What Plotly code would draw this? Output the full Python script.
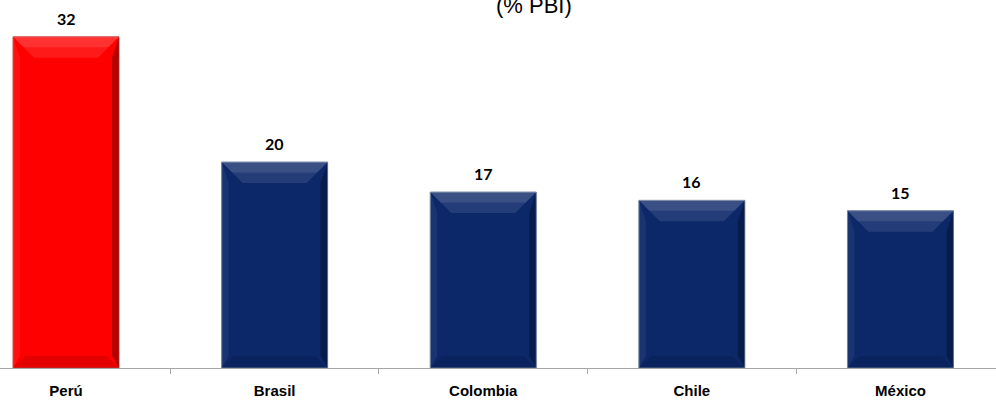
import plotly.graph_objects as go

# ---- data ----
countries = ["Perú", "Brasil", "Colombia", "Chile", "México"]
values = [32.0, 19.9, 17.0, 16.2, 15.2]
value_labels = ["32", "20", "17", "16", "15"]
title_text = "(% PBI)"

# ---- style ----
RED = "#FF0000"
NAVY = "#0C2869"
bar_colors = [RED] + [NAVY] * (len(countries) - 1)
edge_colors = ["#D04040"] + ["#6F7FA0"] * (len(countries) - 1)

W, H = 996, 402
M_L, M_R, M_T, M_B = 0, 0, 0, 34
plot_w = W - M_L - M_R
plot_h = H - M_T - M_B

BAR_W = 0.508
x_range = [-0.3164, 4.458]
y_range = [0, 35.56]

fig = go.Figure()
fig.add_trace(go.Bar(
    x=countries, y=values,
    width=BAR_W,
    marker=dict(color=bar_colors, line=dict(color=edge_colors, width=1)),
    hoverinfo="x+y",
))

# bevel overlays computed from the data through axis scale
px_per_x = plot_w / (x_range[1] - x_range[0])
px_per_y = plot_h / (y_range[1] - y_range[0])
bev_x = 21 / px_per_x
bev_y = 21 / px_per_y
bot_y = 12 / px_per_y
bot_x = 12 / px_per_x
side_x = 7 / px_per_x
shapes = []
for i, v in enumerate(values):
    x0, x1 = i - BAR_W / 2, i + BAR_W / 2
    y0, y1 = 0, v
    # top band (light) in two steps for a soft gradient
    shapes.append(dict(type="path", xref="x", yref="y", layer="above",
                       path=f"M {x0},{y1} L {x1},{y1} L {x1-bev_x},{y1-bev_y} L {x0+bev_x},{y1-bev_y} Z",
                       fillcolor="rgba(255,255,255,0.10)", line=dict(width=0)))
    shapes.append(dict(type="path", xref="x", yref="y", layer="above",
                       path=f"M {x0},{y1} L {x1},{y1} L {x1-bev_x/2},{y1-bev_y/2} L {x0+bev_x/2},{y1-bev_y/2} Z",
                       fillcolor="rgba(255,255,255,0.10)", line=dict(width=0)))
    # right band (dark)
    shapes.append(dict(type="path", xref="x", yref="y", layer="above",
                       path=f"M {x1},{y1} L {x1},{y0} L {x1-side_x},{y0+bot_y} L {x1-side_x},{y1-bev_y} Z",
                       fillcolor="rgba(0,0,0,0.28)", line=dict(width=0)))
    # left band (slightly light)
    shapes.append(dict(type="path", xref="x", yref="y", layer="above",
                       path=f"M {x0},{y1} L {x0},{y0} L {x0+side_x},{y0+bot_y} L {x0+side_x},{y1-bev_y} Z",
                       fillcolor="rgba(255,255,255,0.06)", line=dict(width=0)))
    # bottom band (dark)
    shapes.append(dict(type="path", xref="x", yref="y", layer="above",
                       path=f"M {x0},{y0} L {x1},{y0} L {x1-bot_x},{y0+bot_y} L {x0+bot_x},{y0+bot_y} Z",
                       fillcolor="rgba(0,0,0,0.10)", line=dict(width=0)))

annotations = []
for c, v, lab in zip(countries, values, value_labels):
    annotations.append(dict(x=c, y=v, xref="x", yref="y", text=f"<b>{lab}</b>",
                            showarrow=False, yanchor="bottom", yshift=7,
                            font=dict(family="Lato, Open Sans, sans-serif", size=16, color="#000000")))
annotations.append(dict(x=534 / W, y=1 - 6 / plot_h, xref="paper", yref="paper",
                        text=title_text, showarrow=False, xanchor="center", yanchor="middle",
                        font=dict(family="Liberation Sans, Arial, sans-serif", size=22, color="#000000")))

fig.update_layout(
    width=W, height=H,
    margin=dict(l=M_L, r=M_R, t=M_T, b=M_B, pad=0),
    paper_bgcolor="white", plot_bgcolor="white",
    showlegend=False,
    shapes=shapes,
    annotations=annotations,
    xaxis=dict(type="category", range=x_range, showgrid=False, zeroline=False,
               showline=True, linecolor="#A6A6A6", linewidth=1,
               ticks="outside", tickson="boundaries", ticklen=5, tickcolor="#A6A6A6",
               ticklabelstandoff=9,
               tickfont=dict(family="Liberation Sans, Arial, sans-serif", size=15, color="#000000"),
               tickvals=countries, ticktext=[f"<b>{c}</b>" for c in countries]),
    yaxis=dict(range=y_range, visible=False, showgrid=False, zeroline=False),
    bargap=1 - BAR_W,
)

fig.write_html("out.html")
